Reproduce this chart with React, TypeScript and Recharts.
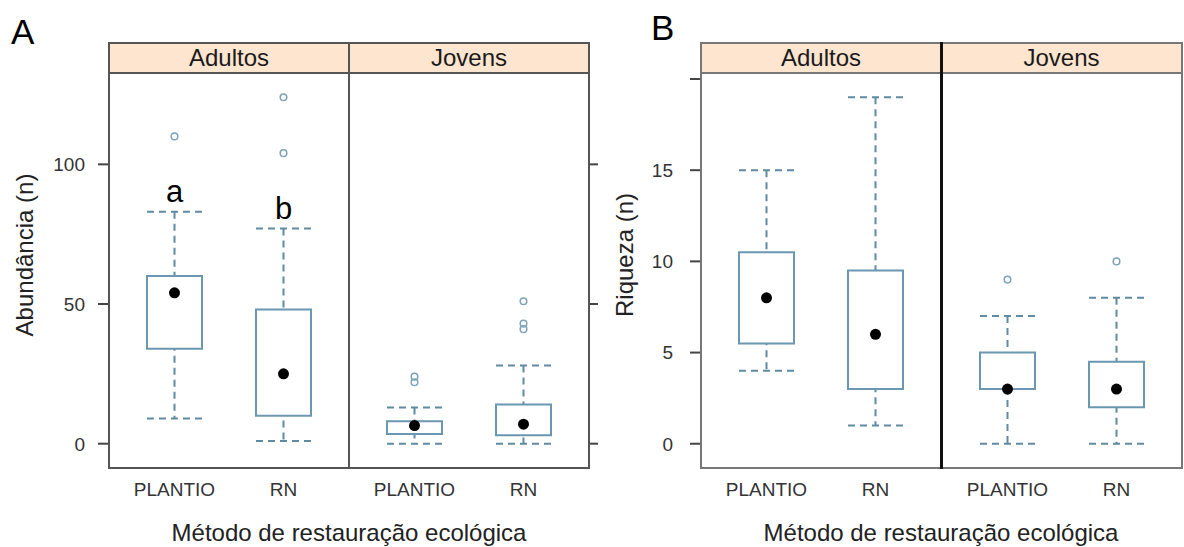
import React from 'react'
import { ComposedChart, Bar, Scatter, XAxis, YAxis, LabelList } from 'recharts'

const FONT = '"Liberation Sans", Arial, Helvetica, sans-serif'

const CATEGORIES = ['PLANTIO', 'RN']
const STRIPS = ['Adultos', 'Jovens']

// Abundância - Adultos
const AB_AD_MIN = [9, 1]
const AB_AD_Q1 = [34, 10]
const AB_AD_MED = [54, 25]
const AB_AD_Q3 = [60, 48]
const AB_AD_MAX = [83, 77]
const AB_AD_OUT = [
  { cat: 'PLANTIO', value: 110 },
  { cat: 'RN', value: 104 },
  { cat: 'RN', value: 124 },
]
const AB_AD_LETTERS = ['a', 'b']

// Abundância - Jovens
const AB_JO_MIN = [0, 0]
const AB_JO_Q1 = [3.5, 3]
const AB_JO_MED = [6.5, 7]
const AB_JO_Q3 = [8, 14]
const AB_JO_MAX = [13, 28]
const AB_JO_OUT = [
  { cat: 'PLANTIO', value: 22 },
  { cat: 'PLANTIO', value: 24 },
  { cat: 'RN', value: 41 },
  { cat: 'RN', value: 43 },
  { cat: 'RN', value: 51 },
]

// Riqueza - Adultos
const RI_AD_MIN = [4, 1]
const RI_AD_Q1 = [5.5, 3]
const RI_AD_MED = [8, 6]
const RI_AD_Q3 = [10.5, 9.5]
const RI_AD_MAX = [15, 19]

// Riqueza - Jovens
const RI_JO_MIN = [0, 0]
const RI_JO_Q1 = [3, 2]
const RI_JO_MED = [3, 3]
const RI_JO_Q3 = [5, 4.5]
const RI_JO_MAX = [7, 8]
const RI_JO_OUT = [
  { cat: 'PLANTIO', value: 9 },
  { cat: 'RN', value: 10 },
]

const AB_TICKS = [0, 50, 100]
const RI_TICKS = [0, 5, 10, 15, 20]
const RI_TICK_LABELS: Record<number, string> = { 0: '0', 5: '5', 10: '10', 15: '15', 20: '' }
const AB_DOMAIN: [number, number] = [-8.7, 132.7]
const RI_DOMAIN: [number, number] = [-1.33, 20.33]

const BOX = '#6a98b0'
const WHISKER = '#5f8ba3'
const OUTLIER = '#7ca3b8'
const STRIP_BG = '#fde5cf'

const PLOT_TOP = 73
const PLOT_H = 395
const SUB_W = 240
const LEFT_W = 70
const RIGHT_W = 14
const XAXIS_H = 40

function buildRows(mins: number[], q1: number[], med: number[], q3: number[], maxs: number[], letters?: string[]) {
  return CATEGORIES.map((cat, i) => ({
    cat,
    whisker: [mins[i], maxs[i]],
    box: [q1[i], q3[i]],
    median: med[i],
    letter: letters ? letters[i] : undefined,
  }))
}

const WhiskerShape = (p: any) => {
  const { x, y, width, height } = p
  const top = Math.min(y, y + height)
  const bot = Math.max(y, y + height)
  const cx = x + width / 2
  return (
    <g stroke={WHISKER} strokeWidth={2} strokeDasharray="7 5" fill="none">
      <line x1={cx} x2={cx} y1={top} y2={bot} />
      <line x1={x} x2={x + width} y1={top} y2={top} />
      <line x1={x} x2={x + width} y1={bot} y2={bot} />
    </g>
  )
}

const MedianShape = (p: any) => <circle cx={p.cx} cy={p.cy} r={5.5} fill="#000" />
const OutlierShape = (p: any) => (
  <circle cx={p.cx} cy={p.cy} r={3.3} fill="none" stroke={OUTLIER} strokeWidth={1.5} />
)

interface SubProps {
  left: number
  rows: any[]
  outliers?: { cat: string; value: number }[]
  domain: [number, number]
  ticks: number[]
  tickLabels?: Record<number, string>
  axis: 'left' | 'right' | 'none'
  tickMargin?: number
}

function SubPanel({ left, rows, outliers, domain, ticks, tickLabels, axis, tickMargin = 13 }: SubProps) {
  const lw = axis === 'left' ? LEFT_W : 0
  const rw = axis === 'right' ? RIGHT_W : 0
  const hasLetters = rows.some((r) => r.letter)
  const yTick = (p: any) => {
    if (axis === 'right') return <g />
    const v = p.payload.value
    const label = tickLabels ? tickLabels[v] : String(v)
    return (
      <text x={p.x} y={p.y} dy="0.36em" textAnchor="end" fontSize={19} fill="#333" fontFamily={FONT}>
        {label}
      </text>
    )
  }
  return (
    <div style={{ position: 'absolute', left: left - lw, top: PLOT_TOP }}>
      <ComposedChart
        width={SUB_W + lw + rw}
        height={PLOT_H + XAXIS_H}
        data={rows}
        margin={{ top: 0, right: 0, bottom: 0, left: 0 }}
      >
        <XAxis
          xAxisId="main"
          dataKey="cat"
          type="category"
          allowDuplicatedCategory={false}
          padding={{ left: 11, right: 11 }}
          tickLine={false}
          axisLine={false}
          tickSize={0}
          tickMargin={15}
          height={XAXIS_H}
          interval={0}
          tick={{ fontSize: 19, fill: '#333', fontFamily: FONT }}
        />
        <XAxis xAxisId="w" dataKey="cat" type="category" padding={{ left: 11, right: 11 }} hide />
        <YAxis
          yAxisId="y"
          type="number"
          domain={domain}
          ticks={ticks}
          allowDataOverflow
          orientation={axis === 'right' ? 'right' : 'left'}
          hide={axis === 'none'}
          width={axis === 'left' ? LEFT_W : RIGHT_W}
          axisLine={false}
          tickSize={axis === 'right' ? 9 : 11}
          tickMargin={tickMargin}
          tickLine={{ stroke: '#444', strokeWidth: 2 }}
          tick={yTick}
        />
        <Bar xAxisId="w" yAxisId="y" dataKey="whisker" barSize={55} shape={WhiskerShape} isAnimationActive={false}>
          {hasLetters && (
            <LabelList dataKey="letter" position="top" offset={10} fontSize={31} fill="#000" fontFamily={FONT} />
          )}
        </Bar>
        <Bar
          xAxisId="main"
          yAxisId="y"
          dataKey="box"
          barSize={55}
          fill="#fff"
          stroke={BOX}
          strokeWidth={2}
          isAnimationActive={false}
        />
        {outliers && (
          <Scatter
            xAxisId="main"
            yAxisId="y"
            data={outliers}
            dataKey="value"
            shape={OutlierShape}
            isAnimationActive={false}
          />
        )}
        <Scatter xAxisId="main" yAxisId="y" dataKey="median" shape={MedianShape} isAnimationActive={false} />
      </ComposedChart>
    </div>
  )
}

function Frame({ left, right, divider, color, divColor, divW }: any) {
  const top = 42
  const bottom = 469
  return (
    <>
      <div
        style={{
          position: 'absolute',
          left: left - 1,
          top,
          width: right - left + 2,
          height: 31,
          background: STRIP_BG,
        }}
      />
      {STRIPS.map((s, i) => {
        const x0 = i === 0 ? left : divider
        const x1 = i === 0 ? divider : right
        return (
          <div
            key={s}
            style={{
              position: 'absolute',
              left: x0,
              top: 43,
              width: x1 - x0,
              height: 30,
              lineHeight: '30px',
              textAlign: 'center',
              fontSize: 24,
              color: '#1a1a1a',
              fontFamily: FONT,
            }}
          >
            {s}
          </div>
        )
      })}
      <div style={{ position: 'absolute', left: left - 1, top: 72, width: right - left + 2, height: 2, background: color }} />
      <div
        style={{
          position: 'absolute',
          left: left - 1,
          top,
          width: right - left + 2,
          height: bottom - top,
          border: `2px solid ${color}`,
          boxSizing: 'border-box',
        }}
      />
      <div
        style={{
          position: 'absolute',
          left: divider - Math.floor(divW / 2),
          top,
          width: divW,
          height: bottom - top,
          background: divColor,
        }}
      />
    </>
  )
}

export default function App() {
  const abAd = buildRows(AB_AD_MIN, AB_AD_Q1, AB_AD_MED, AB_AD_Q3, AB_AD_MAX, AB_AD_LETTERS)
  const abJo = buildRows(AB_JO_MIN, AB_JO_Q1, AB_JO_MED, AB_JO_Q3, AB_JO_MAX)
  const riAd = buildRows(RI_AD_MIN, RI_AD_Q1, RI_AD_MED, RI_AD_Q3, RI_AD_MAX)
  const riJo = buildRows(RI_JO_MIN, RI_JO_Q1, RI_JO_MED, RI_JO_Q3, RI_JO_MAX)

  return (
    <div
      style={{
        position: 'absolute',
        left: 0,
        top: 0,
        width: 1184,
        height: 547,
        background: '#fff',
        overflow: 'hidden',
        fontFamily: FONT,
      }}
    >
      <SubPanel left={109} rows={abAd} outliers={AB_AD_OUT} domain={AB_DOMAIN} ticks={AB_TICKS} axis="left" />
      <SubPanel left={349} rows={abJo} outliers={AB_JO_OUT} domain={AB_DOMAIN} ticks={AB_TICKS} axis="right" />
      <SubPanel
        left={701}
        rows={riAd}
        domain={RI_DOMAIN}
        ticks={RI_TICKS}
        tickLabels={RI_TICK_LABELS}
        axis="left"
        tickMargin={17}
      />
      <SubPanel left={942} rows={riJo} outliers={RI_JO_OUT} domain={RI_DOMAIN} ticks={RI_TICKS} axis="none" />

      <Frame left={109} right={589} divider={349} color="#555" divColor="#555" divW={2} />
      <Frame left={701} right={1182} divider={941} color="#777" divColor="#111" divW={3} />

      <svg width={1184} height={547} style={{ position: 'absolute', left: 0, top: 0, pointerEvents: 'none' }}>
        <g fontFamily={FONT}>
          <text x={11} y={44} fontSize={35} fill="#000">A</text>
          <text x={651} y={40} fontSize={35} fill="#000">B</text>
          <text x={33} y={255} fontSize={24} fill="#222" textAnchor="middle" transform="rotate(-90 33 255)">
            Abundância (n)
          </text>
          <text x={633} y={255} fontSize={24} fill="#222" textAnchor="middle" transform="rotate(-90 633 255)">
            Riqueza (n)
          </text>
          <text x={349} y={541} fontSize={24} fill="#222" textAnchor="middle">
            Método de restauração ecológica
          </text>
          <text x={941} y={541} fontSize={24} fill="#222" textAnchor="middle">
            Método de restauração ecológica
          </text>
        </g>
      </svg>
    </div>
  )
}
